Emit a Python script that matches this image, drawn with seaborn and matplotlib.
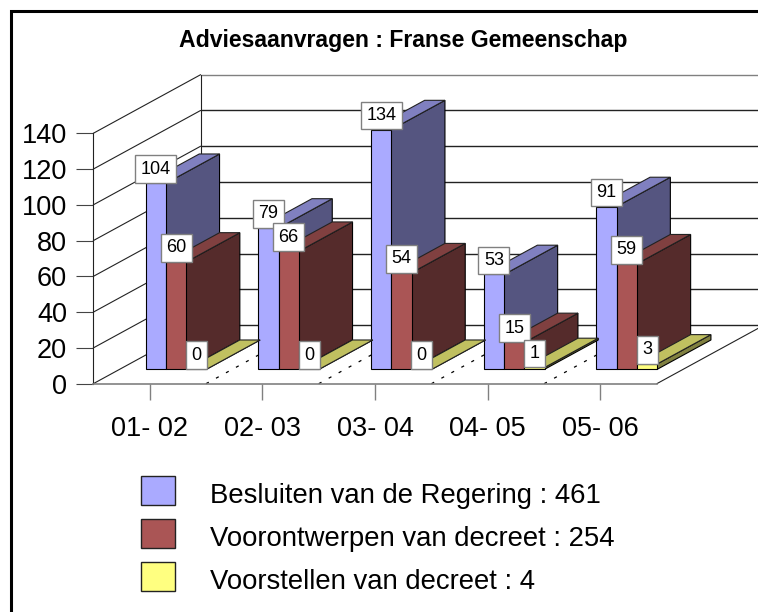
import matplotlib
matplotlib.use('Agg')
import matplotlib.pyplot as plt
from matplotlib.lines import Line2D
from matplotlib.patches import Patch
import pandas as pd
import seaborn as sns

jaren = ['01- 02', '02- 03', '03- 04', '04- 05', '05- 06']
besluiten = [104, 79, 134, 53, 91]
voorontwerpen = [60, 66, 54, 15, 59]
voorstellen = [0, 0, 0, 1, 3]
y_ticks = [0, 20, 40, 60, 80, 100, 120, 140]
titel = 'Adviesaanvragen : Franse Gemeenschap'
namen = ['Besluiten van de Regering', 'Voorontwerpen van decreet', 'Voorstellen van decreet']

kleuren = ['#AAAAFF', '#AA5555', '#FFFF80']
boven = ['#8080C0', '#804040', '#C0C060']
zijkant = ['#555580', '#552B2B', '#808040']

W, H = 758, 612
# front plane in pixels
LEFT, RIGHT, TOP, BOTTOM = 93.3, 656.8, 133.3, 383.7
# depth of the box, and where the bars stand in it, in pixels
DIEPTE = (107.3, 58.6)
BAR_START = 0.246
BAR_DIEPTE = 0.5

sns.set_theme(style='white')
plt.rcParams['font.family'] = ['Liberation Sans', 'DejaVu Sans']

df = pd.DataFrame({'jaar': jaren, namen[0]: besluiten, namen[1]: voorontwerpen, namen[2]: voorstellen})
df = df.melt(id_vars='jaar', var_name='soort', value_name='aantal')

fig = plt.figure(figsize=(W / 100, H / 100), dpi=100)


def box(dx, dy):
    return [(LEFT + dx) / W, (H - BOTTOM + dy) / H, (RIGHT - LEFT) / W, (BOTTOM - TOP) / H]


# walls and floor
ax = fig.add_axes(box(0, 0))
ax.set_facecolor('none')
ax.set_xlim(-0.5, 4.5)
ax.set_ylim(0, 140)
px_x = (RIGHT - LEFT) / 5
px_y = (BOTTOM - TOP) / 140
wall_x = DIEPTE[0] / px_x
wall_y = DIEPTE[1] / px_y
for y in y_ticks:
    kleur = '#808080' if y == 140 else '#222222'
    ax.plot([-0.5, -0.5 + wall_x], [y, y + wall_y], color='#222222', lw=0.8, clip_on=False)
    ax.plot([-0.5 + wall_x, 4.5 + wall_x], [y + wall_y, y + wall_y], color=kleur, lw=1.0, clip_on=False)
ax.plot([-0.5 + wall_x] * 2, [wall_y, 140 + wall_y], color='#222222', lw=0.8, clip_on=False)
ax.plot([4.5, 4.5 + wall_x], [0, wall_y], color='#222222', lw=0.8, clip_on=False)
for i in range(4):
    ax.plot([i + 0.5, i + 0.5 + wall_x], [0, wall_y], color='black', lw=0.9, ls=(0, (2.5, 6.6)), clip_on=False)

ax.set_xticks(range(5))
ax.set_xticklabels(jaren)
ax.set_yticks(y_ticks)
ax.tick_params(axis='y', left=True, labelsize=19.5, length=12, width=0.8, color='#444444', pad=7, labelcolor='black')
ax.tick_params(axis='x', bottom=True, labelsize=19.5, length=11.5, width=1.0, color='#808080', pad=12, labelcolor='black')
sns.despine(ax=ax, top=True, right=True)
ax.spines['left'].set_color('#222222')
ax.spines['left'].set_linewidth(0.8)
ax.spines['bottom'].set_color('#808080')
ax.spines['bottom'].set_linewidth(1.2)

# bars
ax2 = fig.add_axes(box(DIEPTE[0] * BAR_START, DIEPTE[1] * BAR_START))
sns.barplot(data=df, x='jaar', y='aantal', hue='soort', palette=kleuren, saturation=1,
            width=0.54, gap=0, errorbar=None, legend=False, edgecolor='black', linewidth=0.8, ax=ax2)
ax2.set_xlim(-0.5, 4.5)
ax2.set_ylim(0, 140)
ax2.axis('off')

bx = wall_x * BAR_DIEPTE
by = wall_y * BAR_DIEPTE
for s, cont in enumerate(ax2.containers):
    z = 2 + s * 2
    for bar in cont:
        x0 = bar.get_x()
        x1 = x0 + bar.get_width()
        h = bar.get_height()
        ax2.fill([x1, x1 + bx, x1 + bx, x1], [0, by, h + by, h], facecolor=zijkant[s],
                 edgecolor='black', lw=0.8, zorder=z, clip_on=False)
        ax2.fill([x0, x0 + bx, x1 + bx, x1], [h, h + by, h + by, h], facecolor=boven[s],
                 edgecolor='#222222', lw=0.8, zorder=z, clip_on=False)
        bar.set_zorder(z + 0.5)
        bar.set_clip_on(False)
    ax2.bar_label(cont, padding=4, fontsize=13, color='black', zorder=20, clip_on=False,
                  bbox=dict(boxstyle='square,pad=0.3', facecolor='white', edgecolor='#808080', linewidth=1))

# title, legend and frame
fig.text(403 / W, 1 - 40 / H, titel, fontsize=16.6, fontweight='bold', color='black', ha='center', va='center')

totalen = [sum(besluiten), sum(voorontwerpen), sum(voorstellen)]
handles = [Patch(facecolor=kleuren[i], edgecolor='#222222', linewidth=1) for i in range(3)]
labels = [f'{namen[i]} : {totalen[i]}' for i in range(3)]
leg = fig.legend(handles, labels, loc='upper left', bbox_to_anchor=(141 / W, 1 - 476 / H), fontsize=19.85,
                 labelcolor='black', frameon=False, handlelength=1.25, handleheight=1.25, handletextpad=1.27,
                 labelspacing=0.48, borderpad=0, borderaxespad=0)
for t in leg.get_texts():
    t.set_y(-3)

fig.add_artist(Line2D([11.3 / W, 11.3 / W, 1], [0, 1 - 10.7 / H, 1 - 10.7 / H], color='black', lw=2.2,
                      solid_joinstyle='miter', transform=fig.transFigure))

fig.savefig('out.png', dpi=100)
